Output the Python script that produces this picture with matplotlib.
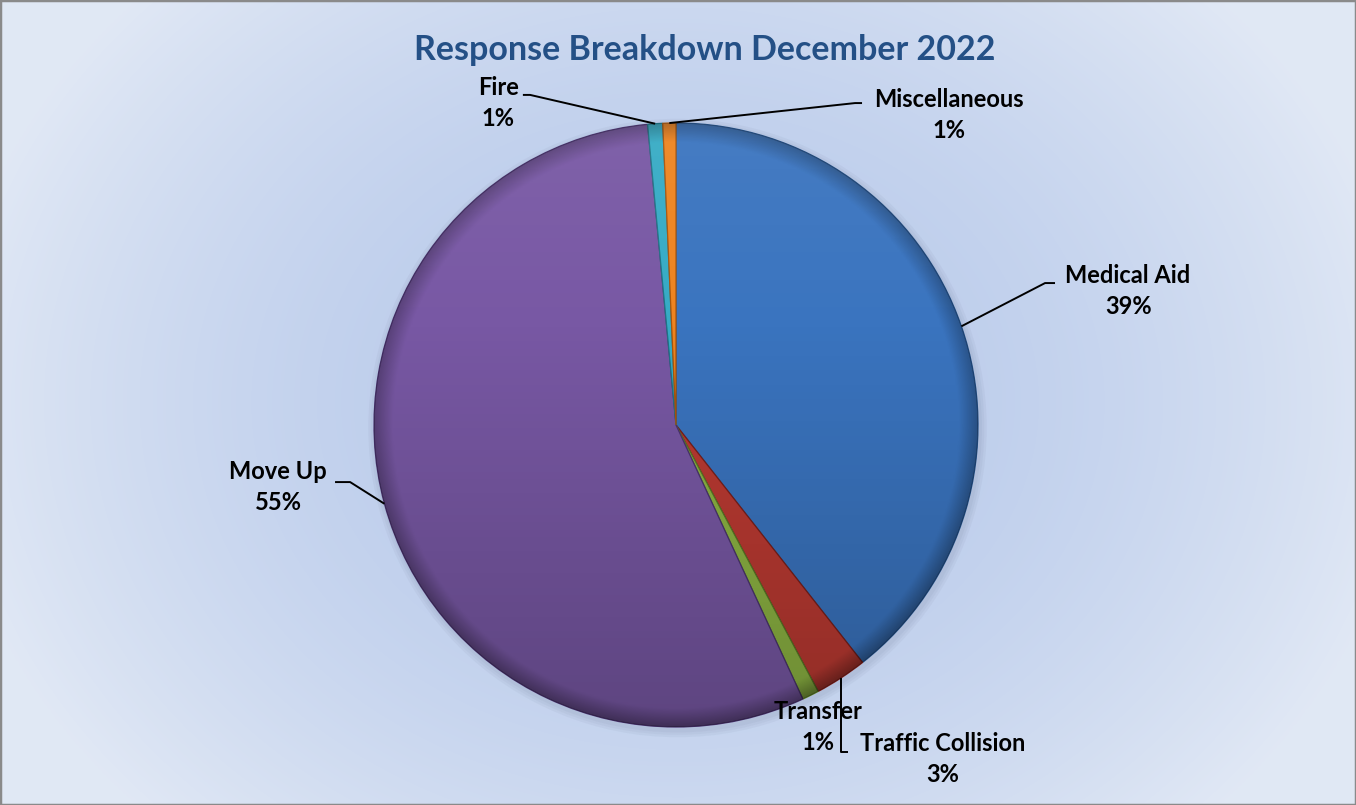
import numpy as np
import matplotlib.pyplot as plt
from matplotlib.patches import Circle, Rectangle

plt.rcParams['font.family'] = ['Lato', 'DejaVu Sans']

# Data
categories = ["Medical Aid", "Traffic Collision", "Transfer", "Move Up", "Fire", "Miscellaneous"]
shares = [39.4, 2.8, 0.9, 55.4, 0.8, 0.7]
colors = ["#3a74bf", "#bb3a32", "#8db443", "#7858a4", "#36abc5", "#ee8420"]
edge_colors = ["#234f86", "#7c1f1a", "#5a7a25", "#4b3470", "#1f7486", "#a9560c"]

# label centre and leader elbow (pie radius units, pie centred at 0,0)
label_xy = [(1.497, 0.444), (0.884, -1.106), (0.470, -1.000),
             (-1.318, -0.205), (-0.589, 1.066), (0.904, 1.026)]
elbow_xy = [(1.222, 0.470), (0.548, -1.083), None,
            (-1.079, -0.189), (-0.483, 1.093), (0.593, 1.066)]
tail_xy = [(1.255, 0.470), (0.570, -1.083), None,
           (-1.129, -0.189), (-0.507, 1.093), (0.616, 1.066)]

W, H = 1356, 805
cx, cy, R = 676, 425, 302

fig = plt.figure(figsize=(W / 100, H / 100), dpi=100)
ax = fig.add_axes([0, 0, 1, 1])
xlim = (-cx / R, (W - cx) / R)
ylim = (-(H - cy) / R, cy / R)

# background radial gradient
gx, gy = np.meshgrid(np.linspace(-1, 1, 340), np.linspace(-1, 1, 200))
rr = np.clip(np.sqrt(gx ** 2 * 0.85 + gy ** 2 * 0.45), 0, 1)
c_in = np.array([0.72, 0.79, 0.92])
c_out = np.array([0.88, 0.91, 0.96])
bg = c_in + (c_out - c_in) * (rr[..., None] ** 1.8)
ax.imshow(bg, extent=(*xlim, *ylim), origin='lower', aspect='auto',
          interpolation='bilinear', zorder=0)

# soft shadow under the pie
for k in range(3):
    ax.add_patch(Circle((0.005, -0.01), 1.0 + 0.008 * (k + 1), color='#2a3550',
                        alpha=0.04, lw=0, zorder=1))

wedges, _ = ax.pie(shares, colors=colors, startangle=90, counterclock=False,
                   radius=1.0, center=(0, 0), frame=True,
                   wedgeprops=dict(linewidth=0.9, zorder=2))
for w, ec in zip(wedges, edge_colors):
    w.set_edgecolor(ec)
ax.set_xlim(xlim)
ax.set_ylim(ylim)
ax.axis('off')

# shading overlay to give a beveled look
sx, sy = np.meshgrid(np.linspace(-1, 1, 300), np.linspace(-1, 1, 300))
sr = np.sqrt(sx ** 2 + sy ** 2)
dark = np.clip((0.35 - sy) / 1.35, 0, 1) * 0.22
light = np.clip((sy - 0.3) / 0.7, 0, 1) * 0.06
rim = np.clip((sr - 0.94) / 0.06, 0, 1) * 0.25
shade = np.zeros((300, 300, 4))
shade[..., 3] = np.clip(dark + rim, 0, 1)
im = ax.imshow(shade, extent=(-1, 1, -1, 1), origin='lower', zorder=3,
               interpolation='bilinear')
im.set_clip_path(Circle((0, 0), 1.0, transform=ax.transData))
hl = np.ones((300, 300, 4))
hl[..., 3] = light
im2 = ax.imshow(hl, extent=(-1, 1, -1, 1), origin='lower', zorder=3,
                interpolation='bilinear')
im2.set_clip_path(Circle((0, 0), 1.0, transform=ax.transData))
ax.set_xlim(xlim)
ax.set_ylim(ylim)

# labels and leader lines
total = sum(shares)
start = 0.0
for i, (name, v) in enumerate(zip(categories, shares)):
    mid = np.deg2rad(start + v / total * 360 / 2)
    start += v / total * 360
    ex, ey = np.sin(mid), np.cos(mid)
    if elbow_xy[i] is not None:
        if name == "Traffic Collision":
            ex = elbow_xy[i][0]
            ey = -np.sqrt(1 - ex ** 2)
        ax.plot([tail_xy[i][0], elbow_xy[i][0], ex], [tail_xy[i][1], elbow_xy[i][1], ey],
                color='black', lw=1.4, zorder=5, solid_capstyle='butt')
    pct = f"{round(v / total * 100):.0f}%"
    ax.text(label_xy[i][0], label_xy[i][1], f"{name}\n{pct}", ha='center', va='center',
            fontsize=17, fontweight='bold', color='black', linespacing=1.45, zorder=6)

ax.text(29 / R, ylim[1] - 50 / R, "Response Breakdown December 2022", ha='center',
        va='center', fontsize=24.5, fontweight='bold', color='#245086', zorder=6)

fig.patches.append(Rectangle((0, 0), 1, 1, transform=fig.transFigure, fill=False,
                             edgecolor='#8a8a8a', lw=2.5, zorder=10))

fig.savefig("out.png", dpi=100)
